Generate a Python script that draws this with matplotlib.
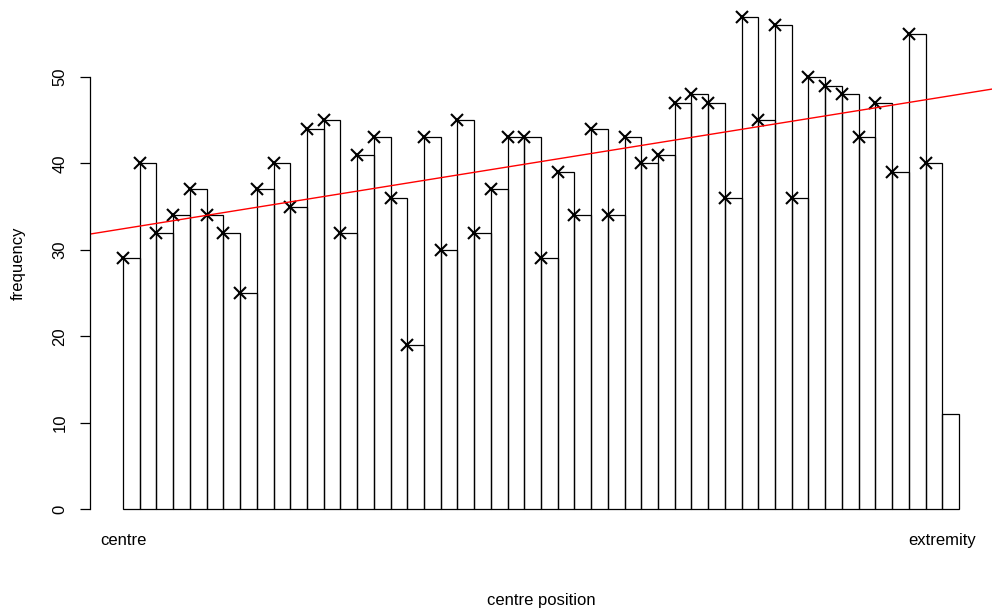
import numpy as np
import matplotlib
matplotlib.use("Agg")
import matplotlib.pyplot as plt

plt.rcParams['font.family'] = ['Liberation Sans', 'DejaVu Sans']

# frequencies per position, centre -> extremity (last bin is partial)
freq = [29, 40, 32, 34, 37, 34, 32, 25, 37, 40,
        35, 44, 45, 32, 41, 43, 36, 19, 43, 30,
        45, 32, 37, 43, 43, 29, 39, 34, 44, 34,
        43, 40, 41, 47, 48, 47, 36, 57, 45, 56,
        36, 50, 49, 48, 43, 47, 39, 55, 40, 11]
pos = np.arange(len(freq))
# points are the complete bins only
pt_pos = pos[:-1]
pt_freq = np.array(freq[:-1])
end_labels = ['centre', 'extremity']
yticks = [0, 10, 20, 30, 40, 50]

fig = plt.figure(figsize=(9.93, 6.15), dpi=100)
ax = fig.add_axes([89.6/993, 86.3/615, 902.8/993, 531.9/615])

ax.bar(pos, freq, width=1, align='edge', fill=False, edgecolor='black', linewidth=0.9)
ax.plot(pt_pos, pt_freq, 'x', color='black', markersize=9, markeredgewidth=1.5)

# least squares line over the points
slope, icpt = np.polyfit(pt_pos, pt_freq, 1)
xl = np.array([-2, 52])
ax.plot(xl, icpt + slope * xl, color='red', linewidth=1)

ax.set_xlim(-2, 52)
ax.set_ylim(-2.28, 59.28)

for s in ['top', 'right', 'bottom']:
    ax.spines[s].set_visible(False)
ax.spines['left'].set_bounds(0, 50)
ax.spines['left'].set_linewidth(0.9)
ax.set_xticks([])
ax.set_yticks(yticks)
ax.tick_params(axis='y', length=7, width=0.9, pad=9, labelsize=12)
for lab in ax.get_yticklabels():
    lab.set_rotation(90)
    lab.set_va('center')

ax.text(pos[0], -3.6, end_labels[0], ha='center', va='center', fontsize=12, clip_on=False)
ax.text(pos[-1], -3.6, end_labels[1], ha='center', va='center', fontsize=12, clip_on=False)

fig.text(541/993, 1 - 601/615, 'centre position', ha='center', va='center', fontsize=12)
fig.text(18/993, 1 - 263/615, 'frequency', ha='center', va='center', rotation=90, fontsize=12)

fig.savefig('out.png', dpi=100)
